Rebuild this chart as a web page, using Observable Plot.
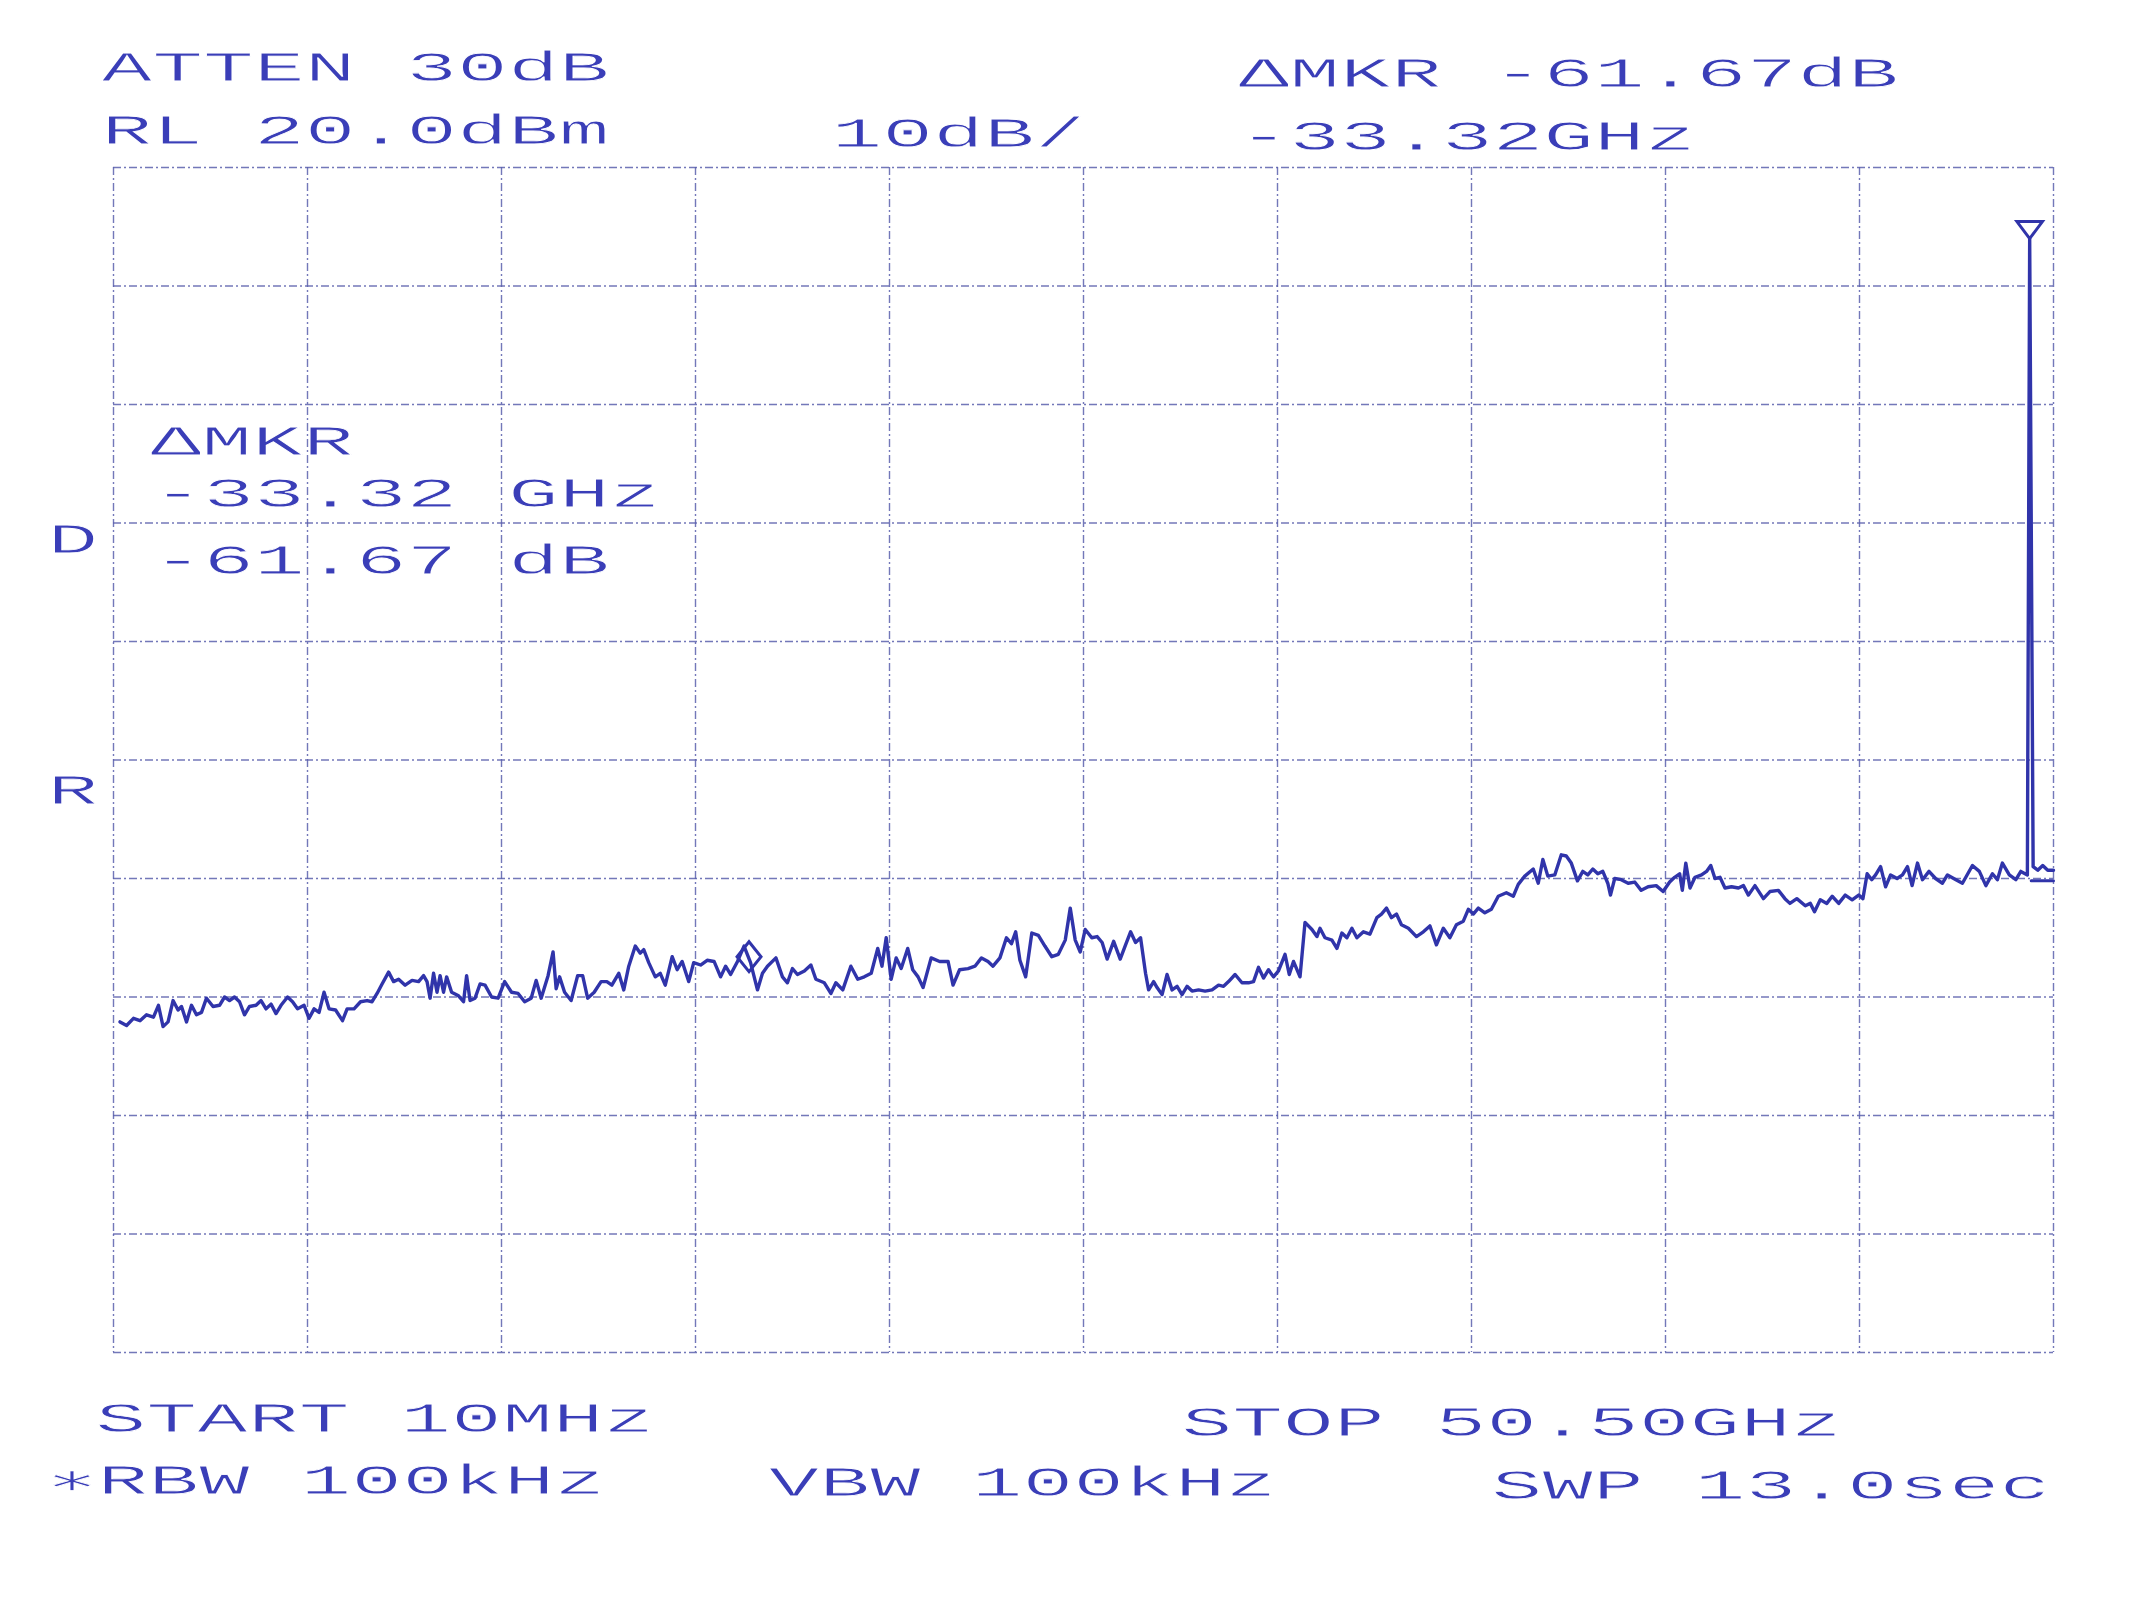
<!DOCTYPE html>
<html>
<head>
<meta charset="utf-8">
<script src="https://cdn.jsdelivr.net/npm/d3@7"></script>
<script src="https://cdn.jsdelivr.net/npm/@observablehq/plot@0.6"></script>
<style>
  html, body { margin: 0; padding: 0; background: #ffffff; }
  #chart { width: 2131px; height: 1598px; overflow: hidden; }
</style>
</head>
<body>
<div id="chart"></div>
<script>
// ---- Trace: frequency (GHz) and level (dBm) ----
const freqGHz = [
  0.18,0.35,0.53,0.70,0.87,1.05,1.18,1.30,1.43,1.56,
  1.69,1.78,1.91,2.04,2.17,2.30,2.43,2.60,2.77,2.90,
  3.03,3.16,3.29,3.42,3.55,3.72,3.85,3.98,4.11,4.24,
  4.37,4.54,4.67,4.80,4.97,5.10,5.23,5.36,5.49,5.62,
  5.79,5.97,6.09,6.27,6.44,6.61,6.74,6.87,7.00,7.17,
  7.30,7.43,7.60,7.78,7.95,8.08,8.17,8.25,8.34,8.43,
  8.51,8.60,8.68,8.81,8.99,9.12,9.20,9.29,9.42,9.55,
  9.68,9.85,10.02,10.19,10.37,10.54,10.71,10.88,11.01,11.14,
  11.32,11.45,11.53,11.62,11.75,11.92,12.09,12.22,12.35,12.52,
  12.70,
  12.85,12.98,13.16,13.29,13.42,13.59,13.72,13.81,13.94,14.11,
  14.24,14.37,14.55,14.68,14.81,14.98,15.11,15.29,15.46,15.64,
  15.81,15.94,16.07,16.25,16.42,16.59,16.77,16.90,17.03,17.25,
  17.42,17.55,17.68,17.81,17.99,18.16,18.29,18.51,18.68,18.81,
  18.99,19.20,19.38,19.55,19.73,19.90,20.01,20.12,20.25,20.38,
  20.51,20.68,20.81,20.95,21.08,21.29,21.51,21.73,21.86,22.03,
  22.25,22.43,22.60,22.77,22.90,23.08,23.25,23.38,23.49,23.60,
  23.75,23.91,24.08,24.25,24.43,24.60,24.78,24.91,25.04,25.17,
  25.30,25.47,
  25.61,25.74,25.87,26.04,26.21,26.35,26.48,26.61,26.74,26.87,
  26.95,27.08,27.17,27.30,27.43,27.56,27.69,27.82,27.95,28.08,
  28.25,28.42,28.60,28.77,28.90,29.03,29.20,29.38,29.55,29.68,
  29.81,29.94,30.07,30.20,30.33,30.50,30.61,30.72,30.89,31.02,
  31.20,31.33,31.41,31.54,31.72,31.85,31.98,32.11,32.24,32.37,
  32.54,32.71,32.89,33.01,33.14,33.27,33.40,33.53,33.71,33.92,
  34.10,34.27,34.44,34.62,34.79,34.96,35.14,35.27,35.40,35.53,
  35.70,35.87,36.05,36.26,36.44,36.57,36.74,36.96,37.09,37.21,
  37.34,37.52,37.69,37.82,37.95,38.11,38.25,
  38.38,38.51,38.64,38.77,38.90,38.97,39.08,39.25,39.43,39.60,
  39.77,39.95,40.16,40.34,40.51,40.64,40.77,40.84,40.93,41.04,
  41.17,41.34,41.47,41.58,41.69,41.82,41.95,42.12,42.30,42.43,
  42.56,42.73,42.95,43.12,43.34,43.51,43.64,43.82,44.04,44.17,
  44.28,44.43,44.60,44.74,44.91,45.08,45.26,45.43,45.54,45.65,
  45.77,45.87,46.00,46.13,46.26,46.43,46.57,46.70,46.82,46.96,
  47.09,47.26,47.43,47.61,47.74,47.96,48.13,48.39,48.57,48.74,
  48.91,49.04,49.17,49.35,49.52,49.65,49.82,
  49.88,
  49.97,50.09,50.22,50.35,50.50
];
const levelDBm = [
  -52.1,-52.4,-51.8,-52.0,-51.5,-51.7,-50.7,-52.5,-52.1,-50.3,
  -51.1,-50.8,-52.1,-50.7,-51.5,-51.3,-50.1,-50.8,-50.7,-50.0,
  -50.3,-50.0,-50.4,-51.5,-50.8,-50.7,-50.3,-51.0,-50.6,-51.4,
  -50.7,-50.0,-50.4,-51.0,-50.7,-51.8,-51.0,-51.3,-49.6,-51.0,
  -51.1,-52.0,-51.0,-51.0,-50.4,-50.3,-50.4,-49.7,-48.9,-47.9,
  -48.7,-48.5,-49.0,-48.6,-48.7,-48.2,-48.7,-50.1,-48.0,-49.6,
  -48.2,-49.6,-48.3,-49.6,-49.9,-50.4,-48.2,-50.3,-50.1,-48.9,
  -49.0,-50.0,-50.1,-48.7,-49.6,-49.7,-50.4,-50.1,-48.6,-50.1,
  -48.2,-46.2,-49.3,-48.3,-49.6,-50.3,-48.2,-48.2,-50.1,-49.6,
  -48.7,
  -48.7,-49.0,-48.0,-49.4,-47.4,-45.7,-46.3,-46.0,-47.1,-48.3,
  -48.0,-49.0,-46.6,-47.7,-47.0,-48.7,-47.1,-47.3,-46.9,-47.0,
  -48.3,-47.4,-48.1,-47.0,-45.7,-47.1,-49.4,-48.0,-47.4,-46.7,
  -48.3,-48.8,-47.6,-48.1,-47.8,-47.3,-48.5,-48.8,-49.7,-48.8,
  -49.4,-47.4,-48.5,-48.3,-48.0,-45.9,-47.4,-45.0,-48.5,-46.7,
  -47.6,-45.9,-47.7,-48.3,-49.2,-46.7,-47.0,-47.0,-49.0,-47.7,
  -47.6,-47.4,-46.7,-47.0,-47.4,-46.7,-45.0,-45.5,-44.5,-46.9,
  -48.3,-44.6,-44.8,-45.7,-46.6,-46.4,-45.2,-42.5,-45.2,-46.2,
  -44.3,-45.0,
  -44.9,-45.4,-46.8,-45.3,-46.8,-45.6,-44.5,-45.4,-45.0,-48.0,
  -49.4,-48.7,-49.2,-49.8,-48.1,-49.4,-49.1,-49.8,-49.1,-49.5,
  -49.4,-49.5,-49.4,-49.0,-49.1,-48.7,-48.1,-48.8,-48.8,-48.7,
  -47.5,-48.4,-47.7,-48.3,-47.8,-46.4,-48.1,-47.0,-48.3,-43.7,
  -44.3,-44.9,-44.2,-45.0,-45.2,-45.9,-44.6,-45.0,-44.2,-45.0,
  -44.5,-44.7,-43.3,-43.0,-42.5,-43.3,-43.0,-43.9,-44.2,-44.9,
  -44.5,-44.0,-45.6,-44.2,-45.0,-43.9,-43.6,-42.6,-43.0,-42.5,
  -42.9,-42.6,-41.5,-41.2,-41.5,-40.5,-39.8,-39.2,-40.4,-38.4,
  -39.8,-39.7,-38.0,-38.1,-38.7,-40.2,-39.4,
  -39.7,-39.2,-39.6,-39.4,-40.4,-41.4,-40.0,-40.1,-40.4,-40.3,
  -41.0,-40.7,-40.6,-41.1,-40.3,-39.9,-39.6,-41.0,-38.7,-40.8,
  -39.9,-39.7,-39.4,-38.9,-40.0,-39.9,-40.8,-40.7,-40.8,-40.6,
  -41.4,-40.6,-41.7,-41.1,-41.0,-41.7,-42.1,-41.7,-42.3,-42.1,
  -42.8,-41.8,-42.1,-41.5,-42.1,-41.4,-41.8,-41.4,-41.7,-39.6,
  -40.1,-39.7,-39.0,-40.7,-39.7,-40.0,-39.7,-39.0,-40.6,-38.7,
  -40.1,-39.4,-40.0,-40.4,-39.7,-40.1,-40.4,-38.9,-39.4,-40.6,
  -39.6,-40.1,-38.7,-39.7,-40.1,-39.4,-39.7,
  14.0,
  -39.0,-39.3,-38.9,-39.3,-39.3
];

// flat display segment drawn at the right end of the sweep
const flatFreqGHz = [49.92, 50.50];
const flatLevelDBm = [-40.2, -40.2];

// markers
const refMarkerFreq = [49.88];
const refMarkerLevel = [14.0];
const deltaMarkerFreq = [16.55];
const deltaMarkerLevel = [-46.6];

// grid divisions (10 x 10): start 10 MHz .. stop 50.50 GHz, RL 20 dBm, 10 dB/div
const xGridTicks = [0.01, 5.059, 10.108, 15.157, 20.206, 25.255, 30.304, 35.353, 40.402, 45.451, 50.5];
const yGridTicks = [20, 10, 0, -10, -20, -30, -40, -50, -60, -70, -80];

// annotation texts
const labelTexts = [
  "ATTEN 30dB", "\u0394MKR -61.67dB",
  "RL 20.0dBm", "10dB/", "-33.32GHz",
  "\u0394MKR", "-33.32 GHz", "-61.67 dB",
  "D", "R",
  "START 10MHz", "STOP 50.50GHz",
  "\u2217RBW 100kHz", "VBW 100kHz", "SWP 13.0sec"
];

// ---- layout / style (kept separate from the data) ----
const labelOffsets = [
  [-12, -87], [1125, -81],
  [-12, -24], [718, -21], [1125, -18],
  [37, 287], [39, 339], [39, 406],
  [-66, 385], [-66, 636],
  [-18, 1264], [1068, 1268],
  [-67, 1326], [655, 1328], [1378, 1331]
];
const INK = "#3034aa";
const TXT = "#3a3eb8";
const GRID = "#5a60ad";
const CELL = 50.8;

const trace = freqGHz.map((f, i) => ({f, level: levelDBm[i]}));
const flat = flatFreqGHz.map((f, i) => ({f, level: flatLevelDBm[i]}));
const refMarker = refMarkerFreq.map((f, i) => ({f, level: refMarkerLevel[i]}));
const deltaMarker = deltaMarkerFreq.map((f, i) => ({f, level: deltaMarkerLevel[i]}));

const triangleDown = {
  draw(ctx, size) {
    const r = Math.sqrt(size / Math.PI);
    ctx.moveTo(0, 0);
    ctx.lineTo(-1.5 * r, -2 * r);
    ctx.lineTo(1.5 * r, -2 * r);
    ctx.closePath();
  }
};
const diamondTall = {
  draw(ctx, size) {
    const r = Math.sqrt(size / Math.PI);
    ctx.moveTo(0, -1.5 * r);
    ctx.lineTo(1.2 * r, 0);
    ctx.lineTo(0, 1.5 * r);
    ctx.lineTo(-1.2 * r, 0);
    ctx.closePath();
  }
};

const textMarks = labelTexts.map((t, i) =>
  Plot.text([t], {
    text: d => d,
    frameAnchor: "top-left",
    dx: labelOffsets[i][0],
    dy: labelOffsets[i][1],
    textAnchor: "start",
    lineAnchor: "bottom",
    fill: TXT,
    fontSize: 43,
    fontFamily: "Liberation Mono, DejaVu Sans Mono, monospace"
  })
);

const chart = Plot.plot({
  width: 2131,
  height: 1598,
  marginLeft: 113,
  marginRight: 78,
  marginTop: 167,
  marginBottom: 246,
  x: {domain: [0.01, 50.5], axis: null},
  y: {domain: [-80, 20], axis: null},
  style: {background: "#ffffff", fontFamily: "Liberation Mono, monospace"},
  marks: [
    Plot.ruleX(xGridTicks, {stroke: GRID, strokeOpacity: 0.85, strokeWidth: 1.4, strokeDasharray: "8,3,2,3"}),
    Plot.ruleY(yGridTicks, {stroke: GRID, strokeOpacity: 0.85, strokeWidth: 1.4, strokeDasharray: "8,3,2,3"}),
    Plot.line(flat, {x: "f", y: "level", stroke: INK, strokeWidth: 3}),
    Plot.line(trace, {x: "f", y: "level", stroke: INK, strokeWidth: 3.4, strokeLinejoin: "round"}),
    Plot.dot(deltaMarker, {x: "f", y: "level", symbol: diamondTall, r: 10, fill: "none", stroke: INK, strokeWidth: 3}),
    Plot.dot(refMarker, {x: "f", y: "level", symbol: triangleDown, r: 8.5, fill: "none", stroke: INK, strokeWidth: 3}),
    ...textMarks
  ]
});

document.getElementById("chart").appendChild(chart);

// stretch the printer-style monospace labels to the analyser's wide character cells,
// and thin the strokes slightly to resemble the plotter lettering
d3.select(chart).selectAll('g[aria-label="text"] text').each(function () {
  const n = this.textContent.length;
  this.setAttribute("textLength", n * CELL);
  this.setAttribute("lengthAdjust", "spacingAndGlyphs");
  this.style.paintOrder = "normal";
  this.setAttribute("stroke", "#ffffff");
  this.setAttribute("stroke-width", "0.8");
});
</script>
</body>
</html>
